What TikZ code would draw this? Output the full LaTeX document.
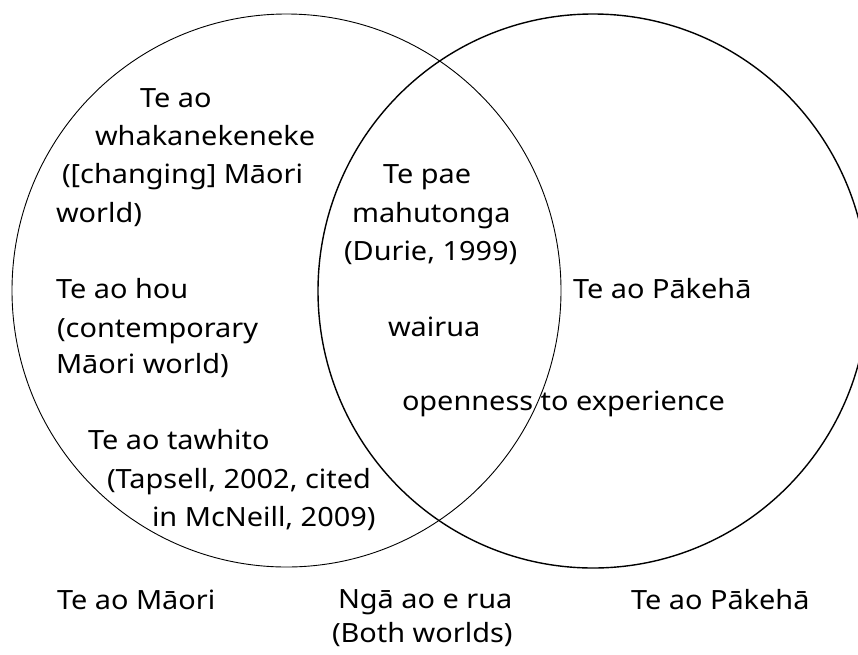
\documentclass[tikz,border=0pt]{standalone}
\usepackage{fontspec}
\setmainfont{Noto Sans}[FakeStretch=1.09]
\begin{document}
\begin{tikzpicture}[x=1pt,y=-1pt,
  lbl/.style={anchor=base west,inner sep=0pt,outer sep=0pt,font=\fontsize{26.5}{30}\selectfont},
  thincirc/.style={line width=0.9pt},
  thickcirc/.style={line width=1.4pt}]
\useasboundingbox (0,0) rectangle (858,654);
\begin{scope}
\clip (0,0) rectangle (858,654);
\draw[thincirc] (286.5,290.5) ellipse [x radius=274.5, y radius=276.5];
\draw[thickcirc] (593,291) ellipse [x radius=275, y radius=277];
\end{scope}
% left region
\node[lbl] (t1) at (140,107) {Te ao};
\node[lbl] (t2) at (95,145) {whakanekeneke};
\node[lbl] (t3) at (62,183) {([changing] Māori};
\node[lbl] (t4) at (56,222) {world)};
\node[lbl] (t5) at (56,298) {Te ao hou};
\node[lbl] (t6) at (57,337) {(contemporary};
\node[lbl] (t7) at (56,373) {Māori world)};
\node[lbl] (t8) at (88,449) {Te ao tawhito};
\node[lbl] (t9) at (107,488) {(Tapsell, 2002, cited};
\node[lbl] (t10) at (152,526) {in McNeill, 2009)};
% middle
\node[lbl] (m1) at (383,183) {Te pae};
\node[lbl] (m2) at (352,222) {mahutonga};
\node[lbl] (m3) at (344,260) {(Durie, 1999)};
\node[lbl] (m4) at (388,336) {wairua};
\node[lbl] (m5) at (402,410) {openness to experience};
% right
\node[lbl] (r1) at (573,298) {Te ao Pākehā};
% bottom
\node[lbl] (b1) at (57,609) {Te ao Māori};
\node[lbl] (b2) at (338,608) {Ngā ao e rua};
\node[lbl] (b3) at (332,642) {(Both worlds)};
\node[lbl] (b4) at (631,609) {Te ao Pākehā};
\end{tikzpicture}
\end{document}
